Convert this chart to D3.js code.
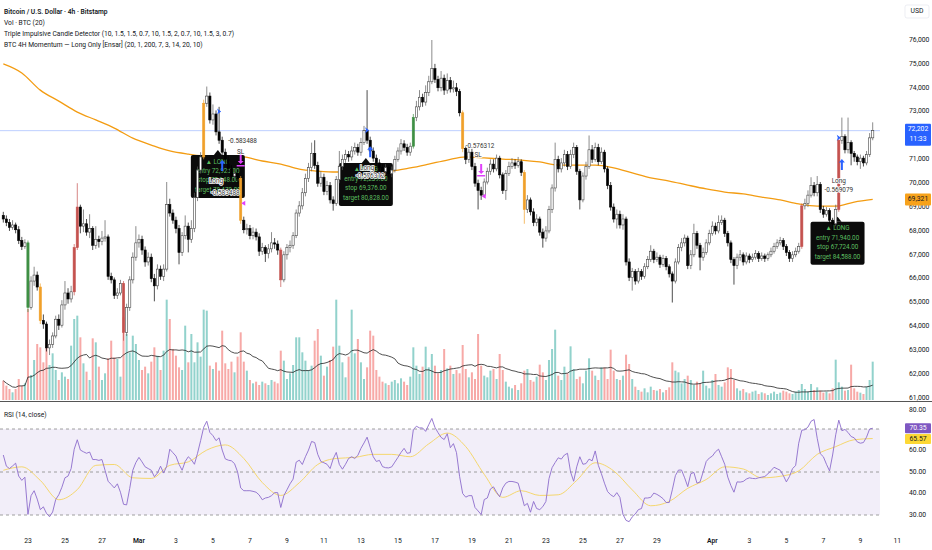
<!DOCTYPE html>
<html>
<head>
<meta charset="utf-8">
<script src="https://cdn.jsdelivr.net/npm/d3@7"></script>
<style>
  body { margin: 0; background: #fff; }
  svg { display: block; font-family: Roboto, "Noto Sans", sans-serif; }
</style>
</head>
<body>
<svg id="chart" width="932" height="550"></svg>
<script>
// 4h candles, first one at 2026-02-21 16:00 UTC
const firstOpen = 68650;

const closes = [
  68500, 68350, 68150, 68250, 68050, 67600, 67350, 67500, 64800, 65900,
  66150, 65650, 64250, 64100, 63100, 63250, 63600, 64300, 64050, 64900,
  65400, 65150, 65450, 67300, 69000, 68200, 68300, 67950, 68100, 67400,
  67650, 67550, 67700, 67750, 66100, 65950, 65300, 65400, 65800, 63750,
  64800, 65950, 66900, 67500, 67650, 67200, 66700, 66900, 66000, 65700,
  66400, 66100, 66400, 69100, 68750, 68450, 68100, 67100, 67800, 68200,
  67650, 68100, 69400, 70550, 71100, 73350, 73650, 72650, 72900, 72150,
  71800, 71300, 71000, 70600, 70300, 70400, 70200, 68450, 68050, 68100,
  67800, 67950, 67750, 67150, 67300, 67050, 67250, 67500, 67450, 67200,
  65950, 67000, 67300, 67400, 67800, 68750, 69050, 69600, 70200, 70650,
  71250, 70750, 70000, 70250, 69650, 69900, 69300, 69150, 70150, 70700,
  71000, 71200, 71100, 71350, 71500, 71300, 71700, 72200, 71800, 71350,
  71050, 70850, 70650, 70500, 70650, 70400, 70550, 71000, 71350, 71650,
  71500, 71300, 71550, 72750, 73200, 73600, 73400, 73800, 74250, 74800,
  74350, 74000, 74400, 73900, 74300, 73950, 74000, 73850, 72950, 71450,
  71000, 71300, 70700, 70000, 69700, 69500, 70050, 70500, 70800, 70600,
  71050, 70350, 69700, 70400, 70700, 70850, 70750, 70900, 70450, 68900,
  69300, 68800, 68350, 68500, 67950, 67700, 68000, 68900, 69800, 71000,
  70600, 70850, 71200, 70700, 71200, 71500, 70500, 69300, 70300, 70700,
  71400, 71000, 71500, 70900, 71300, 70600, 69900, 69000, 68500, 68700,
  68250, 68500, 66700, 66050, 66300, 65900, 66300, 66100, 66500, 66800,
  67150, 66800, 66900, 66600, 66850, 66500, 66200, 65900, 66700, 67300,
  67500, 67700, 66550, 67000, 67900, 67400, 66900, 67100, 67500, 67900,
  68200, 68000, 68350, 68450, 67900, 67500, 66800, 66550, 66900, 67000,
  66700, 66950, 66800, 66900, 67050, 66850, 66950, 66850, 67000, 67150,
  67350, 67500, 67600, 67350, 67100, 66850, 67000, 67150, 67350, 69050,
  69150, 69500, 69900, 69600, 69950, 68900, 68700, 68850, 68450, 68300,
  68900, 71800, 71950, 71400, 71700, 71250, 71100, 70900, 71050, 70850,
  71200, 71900, 72202
];

const highs = [
  68800, 68650, 68500, 68450, 68350, 68200, 67750, 67650, 67600, 66100,
  66500, 66300, 65800, 64500, 64200, 63450, 63750, 64450, 64500, 65100,
  65900, 65600, 65700, 67450, 70000, 69100, 68900, 68500, 68700, 68200,
  68200, 67800, 68000, 68450, 67850, 66250, 66050, 65600, 65950, 65900,
  64950, 66100, 67100, 68200, 67850, 67800, 67350, 67100, 67050, 66200,
  66600, 66550, 66600, 70050, 69350, 68900, 68600, 68250, 67950, 68650,
  68350, 68450, 69600, 70700, 71300, 73500, 74050, 73800, 73300, 73050,
  73200, 71950, 71450, 71150, 70750, 70600, 70550, 70300, 68600, 68300,
  68250, 68150, 68100, 67900, 67500, 67400, 67450, 67950, 67700, 67600,
  67300, 67150, 67450, 67600, 67950, 68900, 69250, 69800, 70400, 70850,
  71700, 71800, 70900, 70500, 70400, 70100, 70050, 69450, 70300, 71350,
  71200, 71400, 71350, 71550, 71700, 71650, 71900, 72400, 73900, 71950,
  71500, 71200, 71000, 70800, 70800, 70750, 70700, 71150, 71500, 71850,
  71800, 71650, 71700, 72900, 73450, 73900, 73750, 74100, 74500, 76000,
  75000, 74500, 74700, 74550, 74600, 74450, 74300, 74200, 73950, 73050,
  71600, 71500, 71450, 70850, 70150, 69850, 70200, 70650, 71000, 71000,
  71200, 71150, 70450, 70550, 70900, 71050, 71000, 71100, 71000, 70550,
  69500, 69400, 68950, 68700, 68600, 68100, 68200, 69050, 69950, 71700,
  71150, 71050, 71400, 71350, 71400, 71700, 71600, 70600, 70450, 70900,
  72000, 71600, 71700, 71650, 71500, 71400, 70700, 70050, 69150, 68900,
  68850, 68700, 68600, 66850, 66450, 66400, 66450, 66400, 66650, 66950,
  67400, 67250, 67100, 67000, 67000, 66950, 66600, 66300, 66850, 67450,
  67700, 67850, 67800, 67200, 68300, 68000, 67500, 67300, 67650, 68050,
  68400, 68350, 68650, 68650, 68550, 68000, 67600, 66900, 67050, 67200,
  67100, 67100, 67050, 67050, 67200, 67150, 67100, 67050, 67100, 67300,
  67500, 67650, 67750, 67700, 67450, 67200, 67150, 67300, 67500, 69150,
  69350, 69700, 70250, 70050, 70300, 70050, 69050, 69000, 68950, 68550,
  69100, 71950, 72750, 72050, 72750, 71800, 71350, 71200, 71200, 71150,
  71350, 72100, 72550
];

const lows = [
  68350, 68200, 68000, 68050, 67900, 67450, 67200, 67250, 64600, 64700,
  65700, 65500, 64100, 63900, 62950, 62800, 63100, 63500, 63850, 63950,
  64700, 64950, 65000, 65300, 67200, 67900, 67950, 67800, 67700, 67200,
  67250, 67300, 67400, 67550, 65950, 65800, 65150, 65150, 65300, 63400,
  63600, 64650, 65800, 66750, 67300, 67000, 66500, 66550, 65850, 65050,
  65550, 65950, 65900, 66300, 68600, 68300, 67900, 66600, 66950, 67650,
  67100, 67500, 67950, 69250, 70400, 71000, 73200, 72500, 72450, 72000,
  71650, 71150, 70850, 70450, 70150, 70150, 70000, 68300, 67900, 67850,
  67650, 67650, 67600, 66950, 67000, 66700, 66850, 67100, 67250, 67000,
  65650, 65850, 66800, 67100, 67250, 67700, 68600, 68900, 69450, 70050,
  70500, 70600, 69850, 69850, 69500, 69500, 69150, 68850, 69050, 70000,
  70550, 70850, 70900, 70950, 71200, 71150, 71150, 71600, 71650, 71200,
  70900, 70700, 70500, 70350, 70350, 70250, 70250, 70450, 70900, 71200,
  71350, 71150, 71150, 71450, 72600, 73050, 73200, 73250, 73650, 74150,
  74200, 73850, 73850, 73700, 73750, 73800, 73800, 73650, 72800, 71300,
  70800, 70850, 70550, 69850, 68900, 69300, 69400, 69950, 70350, 70450,
  70500, 70200, 69550, 69300, 70300, 70600, 70600, 70650, 70300, 68300,
  68750, 68650, 68200, 68200, 67800, 67300, 67550, 67900, 68750, 69650,
  70450, 70450, 70700, 70550, 70600, 71050, 70350, 68900, 69200, 70150,
  70600, 70850, 70900, 70750, 70800, 70450, 69750, 68850, 68350, 68100,
  68100, 68050, 66550, 65900, 65500, 65750, 65800, 65950, 66000, 66400,
  66700, 66650, 66700, 66450, 66500, 66350, 66050, 65000, 65800, 66600,
  67150, 67350, 66400, 66400, 66900, 67250, 66350, 66750, 67000, 67400,
  67800, 67850, 67900, 68250, 67750, 67350, 66650, 65750, 66400, 66750,
  66550, 66600, 66650, 66700, 66800, 66700, 66750, 66700, 66750, 66900,
  67050, 67250, 67400, 67200, 66950, 66700, 66700, 66900, 67050, 67250,
  68900, 69000, 69400, 69450, 69450, 68750, 68550, 68600, 68300, 68000,
  68200, 68800, 71650, 71250, 71250, 70750, 70900, 70750, 70600, 70700,
  70750, 71100, 71800
];

const volumes = [
  58, 43, 33, 23, 33, 63, 43, 50, 273, 75,
  120, 168, 158, 113, 173, 105, 140, 90, 60, 83,
  70, 63, 163, 243, 253, 188, 110, 85, 60, 185,
  173, 100, 60, 80, 125, 178, 128, 123, 70, 248,
  198, 143, 193, 168, 120, 90, 100, 80, 115, 158,
  133, 90, 148, 301, 243, 153, 133, 98, 90, 223,
  113, 198, 113, 173, 130, 271, 268, 103, 93, 113,
  88, 208, 110, 93, 115, 83, 130, 203, 115, 88,
  60, 50, 55, 45, 55, 50, 45, 60, 55, 50,
  148, 118, 63, 80, 105, 188, 188, 143, 118, 90,
  103, 178, 213, 133, 73, 100, 120, 160, 301, 163,
  113, 68, 130, 271, 140, 183, 113, 63, 98, 208,
  193, 90, 70, 55, 50, 45, 55, 60, 50, 65,
  55, 45, 70, 158, 103, 78, 100, 160, 98, 138,
  103, 80, 90, 153, 95, 103, 78, 90, 80, 165,
  93, 68, 83, 63, 198, 103, 73, 68, 88, 93,
  63, 138, 90, 55, 40, 35, 45, 30, 50, 88,
  93, 60, 55, 70, 106, 83, 60, 120, 153, 211,
  73, 60, 100, 80, 161, 93, 63, 70, 50, 88,
  125, 88, 73, 60, 98, 98, 63, 151, 88, 63,
  60, 73, 136, 108, 63, 40, 30, 25, 35, 23,
  40, 30, 28, 33, 23, 30, 38, 113, 88, 83,
  50, 63, 73, 60, 45, 55, 50, 88, 43, 35,
  60, 78, 45, 40, 53, 98, 93, 60, 35, 28,
  33, 23, 20, 25, 28, 18, 23, 20, 15, 20,
  25, 18, 22, 28, 25, 20, 18, 25, 30, 48,
  33, 25, 48, 30, 38, 28, 22, 25, 20, 35,
  121, 53, 40, 28, 30, 106, 35, 25, 22, 18,
  40, 60, 115
];

const rsiValues = [
  57.9, 52.7, 51.6, 52.8, 54.1, 48.1, 46.1, 47.6, 30.3, 39.0,
  41.3, 37.4, 32.5, 33.8, 30.8, 29.2, 31.4, 37.2, 39.4, 42.9,
  47.3, 48.1, 51.6, 60.6, 65.0, 60.2, 59.4, 58.7, 59.3, 55.8,
  55.8, 55.4, 55.8, 50.8, 45.7, 44.2, 42.6, 44.5, 40.6, 35.0,
  34.7, 42.3, 50.8, 54.4, 56.8, 54.7, 52.4, 51.6, 50.8, 47.8,
  49.5, 52.7, 49.5, 52.7, 60.6, 59.0, 57.4, 53.6, 50.8, 54.9,
  57.1, 55.7, 53.6, 58.7, 64.6, 70.8, 73.6, 68.4, 66.9, 64.6,
  65.9, 60.2, 56.1, 55.5, 55.2, 53.9, 50.0, 42.6, 41.3, 41.3,
  41.3, 41.0, 40.6, 39.3, 37.1, 37.9, 38.2, 39.0, 40.4, 40.4,
  33.5, 39.0, 41.7, 44.5, 46.7, 54.6, 55.5, 53.5, 57.1, 60.2,
  64.2, 63.7, 58.2, 54.9, 54.3, 53.6, 51.6, 56.1, 59.1, 53.5,
  51.3, 53.6, 56.3, 57.1, 56.3, 57.7, 61.0, 63.5, 66.2, 61.5,
  57.1, 54.9, 55.4, 52.5, 52.0, 51.9, 52.4, 54.6, 56.8, 59.1,
  61.0, 58.7, 59.0, 69.7, 71.3, 70.5, 70.5, 68.9, 72.0, 74.9,
  70.8, 68.3, 66.1, 65.1, 67.8, 61.3, 63.2, 59.0, 48.0, 40.0,
  38.3, 39.0, 39.0, 33.5, 31.9, 30.2, 37.2, 37.9, 42.1, 43.1,
  40.6, 38.5, 42.6, 44.8, 45.6, 45.6, 45.3, 44.8, 39.8, 34.3,
  35.4, 31.3, 36.3, 33.0, 32.5, 33.9, 36.3, 46.9, 52.0, 54.4,
  56.6, 56.0, 57.9, 58.7, 50.0, 45.7, 52.4, 57.1, 53.6, 53.9,
  56.0, 55.2, 59.8, 53.1, 49.2, 44.8, 40.9, 39.4, 38.5, 40.4,
  38.2, 30.3, 27.5, 26.9, 29.1, 30.5, 32.5, 33.0, 37.9, 37.9,
  38.2, 40.2, 39.6, 38.7, 37.6, 35.8, 35.8, 41.7, 48.3, 50.9,
  50.9, 47.3, 43.2, 49.2, 49.8, 44.8, 45.4, 50.0, 54.9, 56.5,
  57.4, 59.4, 60.6, 57.1, 53.6, 47.6, 43.7, 40.6, 45.4, 45.3,
  45.6, 46.7, 47.3, 47.0, 46.9, 47.3, 47.6, 47.9, 49.1, 50.6,
  52.2, 51.5, 50.8, 48.4, 45.4, 47.9, 51.6, 53.0, 63.4, 69.4,
  69.7, 70.9, 73.6, 74.4, 65.7, 58.5, 57.1, 53.6, 50.5, 57.9,
  67.3, 74.1, 69.2, 69.8, 68.4, 66.5, 65.9, 64.0, 63.4, 63.7,
  66.2, 70.0, 70.35
];

// one point per day (every 6th candle)
const rsiMaDaily = [
  50.8, 52.4, 46.1, 37.1, 41.8, 53.1, 53.5, 47.3, 47.0, 53.1,
  54.7, 60.2, 62.6, 56.3, 45.1, 39.1, 45.0, 53.5, 56.3, 56.8,
  58.2, 58.2, 57.1, 63.1, 68.1, 61.8, 48.9, 38.2, 41.3, 39.1,
  39.4, 46.1, 54.3, 50.5, 41.7, 34.3, 36.3, 42.4, 46.5, 52.4,
  51.4, 47.3, 48.0, 50.5, 58.2, 61.8, 65.0, 65.57
];

const sma200Daily = [
  75000, 74620, 73900, 73440, 72980, 72650, 72310, 71890, 71600, 71350,
  71220, 71140, 71140, 71100, 70930, 70800, 70590, 70510, 70470, 70470,
  70470, 70510, 70640, 70800, 70970, 71100, 71060, 71010, 70970, 70890,
  70760, 70760, 70760, 70640, 70430, 70220, 70090, 69920, 69760, 69630,
  69550, 69420, 69300, 69130, 69040, 69040, 69210, 69321
];

const greenBars = [8, 133];
const orangeBars = [12, 65, 77, 149, 169];
const redBars = [23, 24, 39, 90, 259, 271];

const priceTicks = [61000, 62000, 63000, 64000, 65000, 66000, 67000, 68000,
  69000, 70000, 71000, 72000, 73000, 74000, 75000, 76000];
const rsiTicks = [30, 40, 50, 60, 70, 80];
const rsiLevels = [70, 50, 30];

const dayTickDates = ["2026-02-23", "2026-02-25", "2026-02-27", "2026-03-01", "2026-03-03",
  "2026-03-05", "2026-03-07", "2026-03-09", "2026-03-11", "2026-03-13", "2026-03-15",
  "2026-03-17", "2026-03-19", "2026-03-21", "2026-03-23", "2026-03-25", "2026-03-27",
  "2026-03-29", "2026-04-01", "2026-04-03", "2026-04-05", "2026-04-07", "2026-04-09",
  "2026-04-11"];
const dayTickLabels = ["23", "25", "27", "Mar", "3", "5", "7", "9", "11", "13", "15",
  "17", "19", "21", "23", "25", "27", "29", "Apr", "3", "5", "7", "9", "11"];

const headerLines = [
  "Bitcoin / U.S. Dollar · 4h · Bitstamp",
  "Vol · BTC (20)",
  "Triple Impulsive Candle Detector (10, 1.5, 1.5, 0.7, 10, 1.5, 2, 0.7, 10, 1.5, 3, 0.7)",
  "BTC 4H Momentum — Long Only [Ensar] (20, 1, 200, 7, 3, 14, 20, 10)"
];

const signalBoxes = [
  { i: 61, top: 71180, lines: ["▲ LONG", "entry  72,925.00", "stop  70,148.00", "target  78,479.00"] },
  { i: 109, top: 70850, lines: ["▲ LONG", "entry  72,239.00", "stop  69,376.00", "target  80,828.00"] },
  { i: 262, top: 68380, lines: ["▲ LONG", "entry  71,940.00", "stop  67,724.00", "target  84,588.00"] }
];

const noteLabels = [
  { i: 73, p: 71770, text: "-0.583488", anchor: "start" },
  { i: 77, p: 71300, text: "SL", anchor: "middle" },
  { i: 150, p: 71560, text: "-0.576312", anchor: "start" },
  { i: 154, p: 71180, text: "SL", anchor: "middle" },
  { i: 69, p: 70090, text: "Long", anchor: "middle" },
  { i: 72, p: 69590, text: "-0.583488", anchor: "middle" },
  { i: 118, p: 70620, text: "Long", anchor: "middle" },
  { i: 119, p: 70290, text: "-0.576312", anchor: "middle" },
  { i: 271, p: 70090, text: "Long", anchor: "middle" },
  { i: 271, p: 69715, text: "-0.569079", anchor: "middle" }
];

const blueChevrons = [{ i: 70, p: 73000 }, { i: 118, p: 72220 }, { i: 271, p: 71900 }];
const blueArrows = [{ i: 71, p: 70720 }, { i: 119, p: 71300 }, { i: 272, p: 70760 }];
const pinkExits = [{ i: 77, p: 70970 }, { i: 155, p: 70550 }];
const pinkTriangles = [{ i: 78, p: 69160 }, { i: 156, p: 69450 }];

const lastPrice = 72202;
const lastPriceTime = "11:33";

// ---------------------------------------------------------------
const W = 932, PLOT_R = 880, PANE_B = 401;
const svg = d3.select("#chart");

const t0 = Date.UTC(2026, 1, 21, 16);
const dates = closes.map((_, i) => new Date(t0 + i * 4 * 3600 * 1000));

const x = d3.scaleUtc()
  .domain([dates[0], dates[dates.length - 1]])
  .range([3.3, 872.7]);
const y = d3.scaleLinear().domain([61000, 76000]).range([398, 40]);
const yVol = d3.scaleLinear().domain([0, 300]).range([400, 300]);
const yRsi = d3.scaleLinear().domain([30, 70]).range([515, 429]);

const candles = closes.map((c, i) => ({
  i: i,
  date: dates[i],
  o: i ? closes[i - 1] : firstOpen,
  h: highs[i],
  l: lows[i],
  c: c,
  v: volumes[i]
}));

function impulseColor(i) {
  if (greenBars.includes(i)) return "#3f8f45";
  if (orangeBars.includes(i)) return "#f0a02a";
  if (redBars.includes(i)) return "#c4524f";
  return null;
}

svg.append("rect").attr("width", W).attr("height", 550).attr("fill", "#fff");

svg.append("defs").append("clipPath").attr("id", "pane")
  .append("rect").attr("width", PLOT_R).attr("height", PANE_B);

const pane = svg.append("g").attr("clip-path", "url(#pane)");

// volume
pane.append("g").selectAll("rect")
  .data(candles)
  .join("rect")
  .attr("x", d => x(d.date) - 1)
  .attr("width", 2)
  .attr("y", d => yVol(d.v))
  .attr("height", d => yVol(0) - yVol(d.v))
  .attr("fill", d => d.c >= d.o ? "rgba(38,166,154,0.5)" : "rgba(239,83,80,0.5)");

const volMa = volumes.map((v, i) => d3.mean(volumes.slice(Math.max(0, i - 19), i + 1)));
pane.append("path")
  .datum(volMa)
  .attr("fill", "none")
  .attr("stroke", "#222")
  .attr("stroke-width", 0.8)
  .attr("d", d3.line().x((d, i) => x(dates[i])).y(d => yVol(d)));

// last price line
pane.append("line")
  .attr("x1", 0).attr("x2", PLOT_R)
  .attr("y1", y(lastPrice)).attr("y2", y(lastPrice))
  .attr("stroke", "#2962ff").attr("stroke-opacity", 0.3).attr("stroke-width", 1);

// 200 sma
pane.append("path")
  .datum(sma200Daily)
  .attr("fill", "none")
  .attr("stroke", "#f39c12")
  .attr("stroke-width", 1.3)
  .attr("d", d3.line().curve(d3.curveMonotoneX).x((d, k) => x(dates[k * 6])).y(d => y(d)));

// signal boxes
const boxes = pane.append("g").selectAll("g")
  .data(signalBoxes)
  .join("g")
  .attr("transform", d => `translate(${x(dates[d.i]) - 0.5},${y(d.top)})`);

boxes.append("rect")
  .attr("width", 54).attr("height", 43).attr("rx", 2)
  .attr("fill", "#0b0b0b");
boxes.append("path")
  .attr("d", "M23,0L27,-5L31,0Z")
  .attr("fill", "#0b0b0b");
boxes.selectAll("text")
  .data(d => d.lines)
  .join("text")
  .attr("x", 27)
  .attr("y", (d, k) => 8.5 + k * 9.4)
  .attr("text-anchor", "middle")
  .attr("font-size", 6.3)
  .attr("fill", "#5cbf60")
  .text(d => d);

// candles
const cg = pane.append("g").selectAll("g")
  .data(candles)
  .join("g");

cg.append("line")
  .attr("x1", d => x(d.date)).attr("x2", d => x(d.date))
  .attr("y1", d => y(d.h)).attr("y2", d => y(d.l))
  .attr("stroke", d => impulseColor(d.i) || (d.c >= d.o ? "#5a5a5a" : "#000"))
  .attr("stroke-width", 0.7);

cg.append("rect")
  .attr("x", d => x(d.date) - 1.1)
  .attr("width", 2.2)
  .attr("y", d => y(Math.max(d.o, d.c)))
  .attr("height", d => Math.max(0.8, Math.abs(y(d.o) - y(d.c))))
  .attr("fill", d => impulseColor(d.i) || (d.c >= d.o ? "#fff" : "#000"))
  .attr("stroke", d => impulseColor(d.i) || (d.c >= d.o ? "#444" : "#000"))
  .attr("stroke-width", 0.6);

// markers
pane.append("g").selectAll("path")
  .data(blueChevrons)
  .join("path")
  .attr("transform", d => `translate(${x(dates[d.i])},${y(d.p)})`)
  .attr("d", "M-2,-3L2,0L-2,3L-1,0Z")
  .attr("fill", "#2962ff");

pane.append("g").selectAll("path")
  .data(blueArrows)
  .join("path")
  .attr("transform", d => `translate(${x(dates[d.i])},${y(d.p)})`)
  .attr("d", "M0,-6L3,-2.5L1,-2.5L1,5L-1,5L-1,-2.5L-3,-2.5Z")
  .attr("fill", "#2962ff");

pane.append("g").selectAll("path")
  .data(pinkExits)
  .join("path")
  .attr("transform", d => `translate(${x(dates[d.i])},${y(d.p)})`)
  .attr("d", "M-1,-6L1,-6L1,1L3,1L0,4L-3,1L-1,1Z M-4,5L4,5L4,6.5L-4,6.5Z")
  .attr("fill", "#e040fb");

pane.append("g").selectAll("path")
  .data(pinkTriangles)
  .join("path")
  .attr("transform", d => `translate(${x(dates[d.i])},${y(d.p)})`)
  .attr("d", "M-2.5,0L1.5,-2.5L1.5,2.5Z")
  .attr("fill", "#e040fb");

pane.append("g").selectAll("text")
  .data(noteLabels)
  .join("text")
  .attr("x", d => x(dates[d.i]))
  .attr("y", d => y(d.p))
  .attr("text-anchor", d => d.anchor)
  .attr("dominant-baseline", "middle")
  .attr("font-size", 6.4)
  .attr("fill", "#333")
  .attr("stroke", "#fff")
  .attr("stroke-width", 1.6)
  .attr("paint-order", "stroke")
  .text(d => d.text);

// header
svg.append("g").selectAll("text")
  .data(headerLines)
  .join("text")
  .attr("x", 4)
  .attr("y", (d, k) => 13.5 + k * 11)
  .attr("font-size", 6.7)
  .attr("font-weight", (d, k) => k === 0 ? 600 : 400)
  .attr("fill", "#131722")
  .text(d => d);

// price axis
svg.append("g").selectAll("text")
  .data(priceTicks)
  .join("text")
  .attr("x", 909)
  .attr("y", d => y(d))
  .attr("dominant-baseline", "middle")
  .attr("font-size", 6.8)
  .attr("fill", "#131722")
  .text(d => d3.format(",")(d));

svg.append("rect")
  .attr("x", 905).attr("y", 5).attr("width", 24).attr("height", 13)
  .attr("fill", "#fff").attr("stroke", "#e0e3eb").attr("stroke-width", 0.6).attr("rx", 2);
svg.append("text")
  .attr("x", 917).attr("y", 11.5).attr("text-anchor", "middle")
  .attr("dominant-baseline", "middle").attr("font-size", 6.8).attr("fill", "#131722")
  .text("USD");

// last price tag
svg.append("rect")
  .attr("x", 905).attr("y", y(lastPrice) - 7).attr("width", 26).attr("height", 22)
  .attr("fill", "#2962ff").attr("rx", 1);
svg.append("text")
  .attr("x", 918).attr("y", y(lastPrice) - 1).attr("text-anchor", "middle")
  .attr("dominant-baseline", "middle").attr("font-size", 6.8).attr("fill", "#fff")
  .text(d3.format(",")(lastPrice));
svg.append("text")
  .attr("x", 918).attr("y", y(lastPrice) + 9).attr("text-anchor", "middle")
  .attr("dominant-baseline", "middle").attr("font-size", 6.8).attr("fill", "#fff")
  .text(lastPriceTime);

// sma tag
const smaLast = sma200Daily[sma200Daily.length - 1];
svg.append("rect")
  .attr("x", 905).attr("y", y(smaLast) - 6).attr("width", 26).attr("height", 12)
  .attr("fill", "#f7a21b").attr("rx", 1);
svg.append("text")
  .attr("x", 918).attr("y", y(smaLast)).attr("text-anchor", "middle")
  .attr("dominant-baseline", "middle").attr("font-size", 6.8).attr("fill", "#131722")
  .text(d3.format(",")(smaLast));

// pane separator
svg.append("line")
  .attr("x1", 0).attr("x2", W).attr("y1", PANE_B + 0.5).attr("y2", PANE_B + 0.5)
  .attr("stroke", "#555").attr("stroke-width", 1);

// RSI pane
const rsiG = svg.append("g");
rsiG.append("rect")
  .attr("x", 0).attr("width", PLOT_R)
  .attr("y", yRsi(70)).attr("height", yRsi(30) - yRsi(70))
  .attr("fill", "rgba(126,87,194,0.1)");
rsiG.selectAll("line")
  .data(rsiLevels)
  .join("line")
  .attr("x1", 0).attr("x2", PLOT_R)
  .attr("y1", d => yRsi(d)).attr("y2", d => yRsi(d))
  .attr("stroke", "#888").attr("stroke-width", 0.8).attr("stroke-dasharray", "3,3");

rsiG.append("path")
  .datum(rsiMaDaily)
  .attr("fill", "none")
  .attr("stroke", "#f5d76e")
  .attr("stroke-width", 1)
  .attr("d", d3.line().curve(d3.curveMonotoneX).x((d, k) => x(dates[k * 6])).y(d => yRsi(d)));

rsiG.append("path")
  .datum(rsiValues)
  .attr("fill", "none")
  .attr("stroke", "#8c6ccc")
  .attr("stroke-width", 0.9)
  .attr("d", d3.line().x((d, i) => x(dates[i])).y(d => yRsi(d)));

rsiG.append("text")
  .attr("x", 4).attr("y", 415).attr("dominant-baseline", "middle")
  .attr("font-size", 6.7).attr("fill", "#131722")
  .text("RSI (14, close)");

rsiG.append("g").selectAll("text")
  .data(rsiTicks)
  .join("text")
  .attr("x", 909)
  .attr("y", d => yRsi(d) + (d === 80 ? 3 : 0))
  .attr("dominant-baseline", "middle")
  .attr("font-size", 6.8)
  .attr("fill", "#131722")
  .text(d => d.toFixed(2));

const rsiLast = rsiValues[rsiValues.length - 1];
const rsiMaLast = rsiMaDaily[rsiMaDaily.length - 1];
rsiG.append("rect")
  .attr("x", 905).attr("y", yRsi(rsiLast) - 5).attr("width", 26).attr("height", 10)
  .attr("fill", "#7e57c2").attr("rx", 1);
rsiG.append("text")
  .attr("x", 918).attr("y", yRsi(rsiLast)).attr("text-anchor", "middle")
  .attr("dominant-baseline", "middle").attr("font-size", 6.8).attr("fill", "#fff")
  .text(rsiLast.toFixed(2));
rsiG.append("rect")
  .attr("x", 905).attr("y", yRsi(rsiMaLast) - 4.5).attr("width", 26).attr("height", 10)
  .attr("fill", "#fdd835").attr("rx", 1);
rsiG.append("text")
  .attr("x", 918).attr("y", yRsi(rsiMaLast) + 0.5).attr("text-anchor", "middle")
  .attr("dominant-baseline", "middle").attr("font-size", 6.8).attr("fill", "#131722")
  .text(rsiMaLast.toFixed(2));

// time axis
svg.append("g").selectAll("text")
  .data(dayTickDates)
  .join("text")
  .attr("x", d => x(new Date(d + "T00:00:00Z")))
  .attr("y", 541)
  .attr("text-anchor", "middle")
  .attr("dominant-baseline", "middle")
  .attr("font-size", 6.8)
  .attr("font-weight", (d, k) => /[A-Za-z]/.test(dayTickLabels[k]) ? 600 : 400)
  .attr("fill", "#131722")
  .text((d, k) => dayTickLabels[k]);
</script>
</body>
</html>
